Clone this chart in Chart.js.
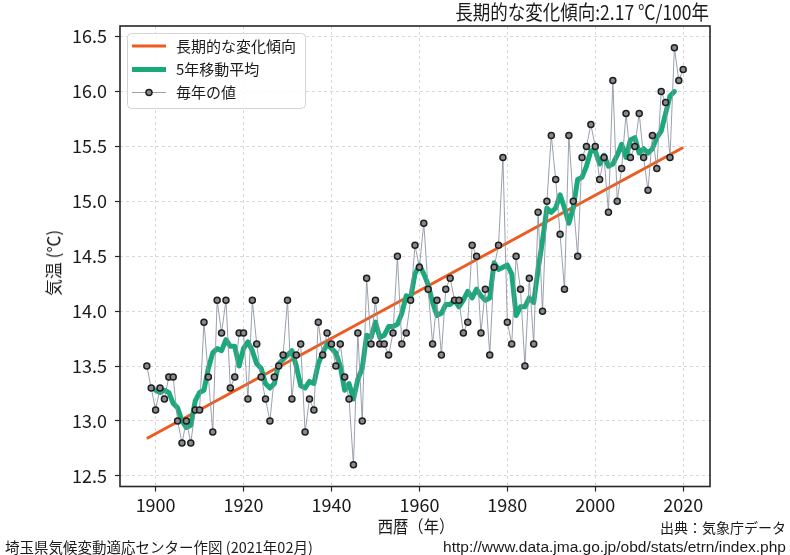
<!DOCTYPE html>
<html>
<head>
<meta charset="utf-8">
<script src="https://cdn.jsdelivr.net/npm/chart.js@4/dist/chart.umd.min.js"></script>
<style>
  html, body { margin: 0; padding: 0; background: #fff; }
  #wrap { position: relative; width: 790px; height: 555px; overflow: hidden; font-family: "Noto Sans CJK JP", "Noto Sans", sans-serif; color: #1a1a1a; }
  #c { position: absolute; left: 0; top: 0; }
  .t { position: absolute; white-space: nowrap; }
</style>
</head>
<body>
<div id="wrap">
  <canvas id="c" width="790" height="555"></canvas>
  <div class="t" id="title" style="right:81px; top:0px; font-size:20px; line-height:24px; transform: scaleX(0.875); transform-origin: right center;">長期的な変化傾向:2.17 ℃/100年</div>
  <div class="t" id="ytitle" style="left:53px; top:263px; font-size:17px; line-height:20px; transform: translate(-50%,-50%) rotate(-90deg);">気温 (℃)</div>
  <div class="t" id="xtitle" style="left:416px; top:526px; font-size:17px; line-height:20px; transform: translate(-50%,-50%) scaleX(0.9);">西暦（年）</div>
  <div class="t" style="right:4px; top:518px; font-size:14px; line-height:18px;">出典：気象庁データ</div>
  <div class="t" style="right:4px; top:538px; font-size:15.5px; line-height:18px; font-family:'Liberation Sans', sans-serif;">http://www.data.jma.go.jp/obd/stats/etrn/index.php</div>
  <div class="t" style="left:5px; top:538px; font-size:14.5px; line-height:18px;">埼玉県気候変動適応センター作図 (2021年02月)</div>
</div>
<script>
// ---- data ----
const years = [
  1898, 1899,
  1900, 1901, 1902, 1903, 1904, 1905, 1906, 1907, 1908, 1909,
  1910, 1911, 1912, 1913, 1914, 1915, 1916, 1917, 1918, 1919,
  1920, 1921, 1922, 1923, 1924, 1925, 1926, 1927, 1928, 1929,
  1930, 1931, 1932, 1933, 1934, 1935, 1936, 1937, 1938, 1939,
  1940, 1941, 1942, 1943, 1944, 1945, 1946, 1947, 1948, 1949,
  1950, 1951, 1952, 1953, 1954, 1955, 1956, 1957, 1958, 1959,
  1960, 1961, 1962, 1963, 1964, 1965, 1966, 1967, 1968, 1969,
  1970, 1971, 1972, 1973, 1974, 1975, 1976, 1977, 1978, 1979,
  1980, 1981, 1982, 1983, 1984, 1985, 1986, 1987, 1988, 1989,
  1990, 1991, 1992, 1993, 1994, 1995, 1996, 1997, 1998, 1999,
  2000, 2001, 2002, 2003, 2004, 2005, 2006, 2007, 2008, 2009,
  2010, 2011, 2012, 2013, 2014, 2015, 2016, 2017, 2018, 2019,
  2020
];
const annualTemp = [
  13.5, 13.3,
  13.1, 13.3, 13.2, 13.4, 13.4, 13.0, 12.8, 13.0, 12.8, 13.1,
  13.1, 13.9, 13.4, 12.9, 14.1, 13.8, 14.1, 13.3, 13.4, 13.8,
  13.8, 13.2, 14.1, 13.7, 13.4, 13.2, 13.0, 13.4, 13.5, 13.6,
  14.1, 13.2, 13.6, 13.7, 12.9, 13.2, 13.1, 13.9, 13.6, 13.8,
  13.7, 13.5, 13.7, 13.4, 13.2, 12.6, 13.8, 13.0, 14.3, 13.7,
  14.1, 13.7, 13.7, 13.6, 13.8, 14.5, 13.7, 13.8, 14.1, 14.6,
  14.4, 14.8, 14.2, 13.7, 14.1, 13.6, 14.2, 14.3, 14.1, 14.1,
  13.8, 13.9, 14.6, 14.5, 13.8, 14.2, 13.6, 14.4, 14.6, 15.4,
  13.9, 13.7, 14.5, 14.2, 13.5, 14.3, 13.7, 14.9, 14.0, 15.0,
  15.6, 15.2, 14.7, 14.2, 15.6, 15.0, 14.5, 15.4, 15.5, 15.7,
  15.5, 15.2, 15.4, 14.9, 16.1, 15.0, 15.3, 15.8, 15.4, 15.5,
  15.8, 15.4, 15.1, 15.6, 15.3, 16.0, 15.9, 15.4, 16.4, 16.1,
  16.2
];
// 5-year moving average, 1900 .. 2018
const maYears = [
  1900, 1901, 1902, 1903, 1904, 1905, 1906, 1907, 1908, 1909,
  1910, 1911, 1912, 1913, 1914, 1915, 1916, 1917, 1918, 1919,
  1920, 1921, 1922, 1923, 1924, 1925, 1926, 1927, 1928, 1929,
  1930, 1931, 1932, 1933, 1934, 1935, 1936, 1937, 1938, 1939,
  1940, 1941, 1942, 1943, 1944, 1945, 1946, 1947, 1948, 1949,
  1950, 1951, 1952, 1953, 1954, 1955, 1956, 1957, 1958, 1959,
  1960, 1961, 1962, 1963, 1964, 1965, 1966, 1967, 1968, 1969,
  1970, 1971, 1972, 1973, 1974, 1975, 1976, 1977, 1978, 1979,
  1980, 1981, 1982, 1983, 1984, 1985, 1986, 1987, 1988, 1989,
  1990, 1991, 1992, 1993, 1994, 1995, 1996, 1997, 1998, 1999,
  2000, 2001, 2002, 2003, 2004, 2005, 2006, 2007, 2008, 2009,
  2010, 2011, 2012, 2013, 2014, 2015, 2016, 2017, 2018
];
const movingAvg = [
  13.28, 13.26, 13.28, 13.26, 13.16, 13.12, 13.00, 12.94, 12.96, 13.18,
  13.26, 13.28, 13.48, 13.62, 13.66, 13.64, 13.74, 13.68, 13.68, 13.50,
  13.66, 13.72, 13.64, 13.52, 13.48, 13.34, 13.30, 13.34, 13.52, 13.56,
  13.60, 13.64, 13.50, 13.32, 13.30, 13.36, 13.34, 13.52, 13.62, 13.70,
  13.66, 13.62, 13.50, 13.28, 13.34, 13.20, 13.38, 13.48, 13.78, 13.76,
  13.90, 13.76, 13.78, 13.86, 13.86, 13.88, 13.98, 14.14, 14.12, 14.34,
  14.42, 14.34, 14.24, 14.08, 13.96, 13.98, 14.06, 14.06, 14.10, 14.04,
  14.10, 14.18, 14.12, 14.20, 14.14, 14.10, 14.12, 14.44, 14.38, 14.40,
  14.42, 14.34, 13.96, 14.04, 14.04, 14.12, 14.08, 14.38, 14.64, 14.94,
  14.90, 14.94, 15.06, 14.94, 14.80, 14.94, 15.20, 15.22, 15.32, 15.46,
  15.46, 15.34, 15.42, 15.32, 15.34, 15.42, 15.52, 15.40, 15.56, 15.58,
  15.44, 15.48, 15.44, 15.48, 15.58, 15.64, 15.80, 15.96, 16.00
];
// long-term trend line end points
const trendYears = [1898, 2020];
const trendTemp = [12.84, 15.49];
const yTicks = [12.5, 13.0, 13.5, 14.0, 14.5, 15.0, 15.5, 16.0, 16.5];
const xTicks = [1900, 1920, 1940, 1960, 1980, 2000, 2020];
const legendLabels = ['長期的な変化傾向', '5年移動平均', '毎年の値'];

// ---- styles ----
const ORANGE = '#ee5a1f';
const GREEN = '#19a97b';
const GRAYLINE = 'rgba(135,145,160,0.85)';
const FONT = '"Noto Sans CJK JP", "Noto Sans", sans-serif';

const pts = (xs, ys) => xs.map((x, i) => ({ x: x, y: ys[i] }));

const framePlugin = {
  id: 'frameLegend',
  afterDatasetsDraw(chart) {
    const { ctx, chartArea: a } = chart;
    ctx.save();
    ctx.strokeStyle = '#262626';
    ctx.lineWidth = 1.6;
    ctx.strokeRect(a.left, a.top, a.right - a.left, a.bottom - a.top);
    // legend box
    const bx = 127.5, by = 33.5, bw = 178, bh = 75, r = 4;
    ctx.fillStyle = 'rgba(255,255,255,0.85)';
    ctx.strokeStyle = '#d4d4d4';
    ctx.lineWidth = 1;
    ctx.beginPath();
    ctx.moveTo(bx + r, by);
    ctx.lineTo(bx + bw - r, by); ctx.quadraticCurveTo(bx + bw, by, bx + bw, by + r);
    ctx.lineTo(bx + bw, by + bh - r); ctx.quadraticCurveTo(bx + bw, by + bh, bx + bw - r, by + bh);
    ctx.lineTo(bx + r, by + bh); ctx.quadraticCurveTo(bx, by + bh, bx, by + bh - r);
    ctx.lineTo(bx, by + r); ctx.quadraticCurveTo(bx, by, bx + r, by);
    ctx.closePath();
    ctx.fill(); ctx.stroke();
    const rows = [46, 69.5, 92.5];
    const x1 = 132, x2 = 166, tx = 176;
    ctx.lineCap = 'butt';
    ctx.strokeStyle = ORANGE; ctx.lineWidth = 3;
    ctx.beginPath(); ctx.moveTo(x1, rows[0]); ctx.lineTo(x2, rows[0]); ctx.stroke();
    ctx.strokeStyle = GREEN; ctx.lineWidth = 5;
    ctx.beginPath(); ctx.moveTo(x1, rows[1]); ctx.lineTo(x2, rows[1]); ctx.stroke();
    ctx.strokeStyle = GRAYLINE; ctx.lineWidth = 1;
    ctx.beginPath(); ctx.moveTo(x1, rows[2]); ctx.lineTo(x2, rows[2]); ctx.stroke();
    ctx.fillStyle = '#8a8a8a'; ctx.strokeStyle = '#1e1e1e'; ctx.lineWidth = 1.5;
    ctx.beginPath(); ctx.arc((x1 + x2) / 2, rows[2], 3, 0, Math.PI * 2); ctx.fill(); ctx.stroke();
    ctx.fillStyle = '#1a1a1a';
    ctx.font = '15px ' + FONT;
    ctx.textBaseline = 'middle';
    ctx.textAlign = 'left';
    legendLabels.forEach((s, i) => ctx.fillText(s, tx, rows[i]));
    ctx.restore();
  }
};

new Chart(document.getElementById('c'), {
  type: 'line',
  data: {
    datasets: [
      {
        label: legendLabels[0],
        data: pts(trendYears, trendTemp),
        borderColor: ORANGE, borderWidth: 3, pointRadius: 0, order: 4, tension: 0
      },
      {
        label: legendLabels[1],
        data: pts(maYears, movingAvg),
        borderColor: GREEN, borderWidth: 5, pointRadius: 0, order: 3, tension: 0,
        borderJoinStyle: 'round', borderCapStyle: 'round'
      },
      {
        label: legendLabels[2],
        data: pts(years, annualTemp),
        borderColor: GRAYLINE, borderWidth: 1, pointRadius: 0, order: 2, tension: 0
      },
      {
        label: legendLabels[2] + '(marker)',
        data: pts(years, annualTemp),
        showLine: false, pointRadius: 3, pointBorderWidth: 1.5,
        pointBackgroundColor: '#8a8a8a', pointBorderColor: '#1e1e1e', order: 1
      }
    ]
  },
  options: {
    responsive: false,
    animation: false,
    events: [],
    layout: { padding: { left: 0, top: 26, right: 80, bottom: 0 } },
    plugins: { legend: { display: false }, tooltip: { enabled: false }, title: { display: false } },
    scales: {
      x: {
        type: 'linear', min: 1891.9, max: 2026.1,
        afterFit: (s) => { s.height = 68.5; },
        afterBuildTicks: (s) => { s.ticks = xTicks.map(v => ({ value: v })); },
        ticks: { stepSize: 20, includeBounds: false, color: '#1a1a1a', padding: 3,
          font: { family: FONT, size: 18 }, maxRotation: 0, autoSkip: false,
          callback: (v) => String(v) },
        grid: { color: '#cfcfcf', lineWidth: 0.8, tickLength: 5, tickColor: '#262626', tickWidth: 1.2 },
        border: { display: false, dash: [3, 3] }
      },
      y: {
        type: 'linear', min: 12.403, max: 16.597,
        afterFit: (s) => { s.width = 120; },
        afterBuildTicks: (s) => { s.ticks = yTicks.map(v => ({ value: v })); },
        ticks: { stepSize: 0.5, includeBounds: false, color: '#1a1a1a', padding: 8,
          font: { family: FONT, size: 18 }, autoSkip: false,
          callback: (v) => Number(v).toFixed(1) },
        grid: { color: '#cfcfcf', lineWidth: 0.8, tickLength: 5, tickColor: '#262626', tickWidth: 1.2 },
        border: { display: false, dash: [3, 3] }
      }
    }
  },
  plugins: [framePlugin]
});
</script>
</body>
</html>
